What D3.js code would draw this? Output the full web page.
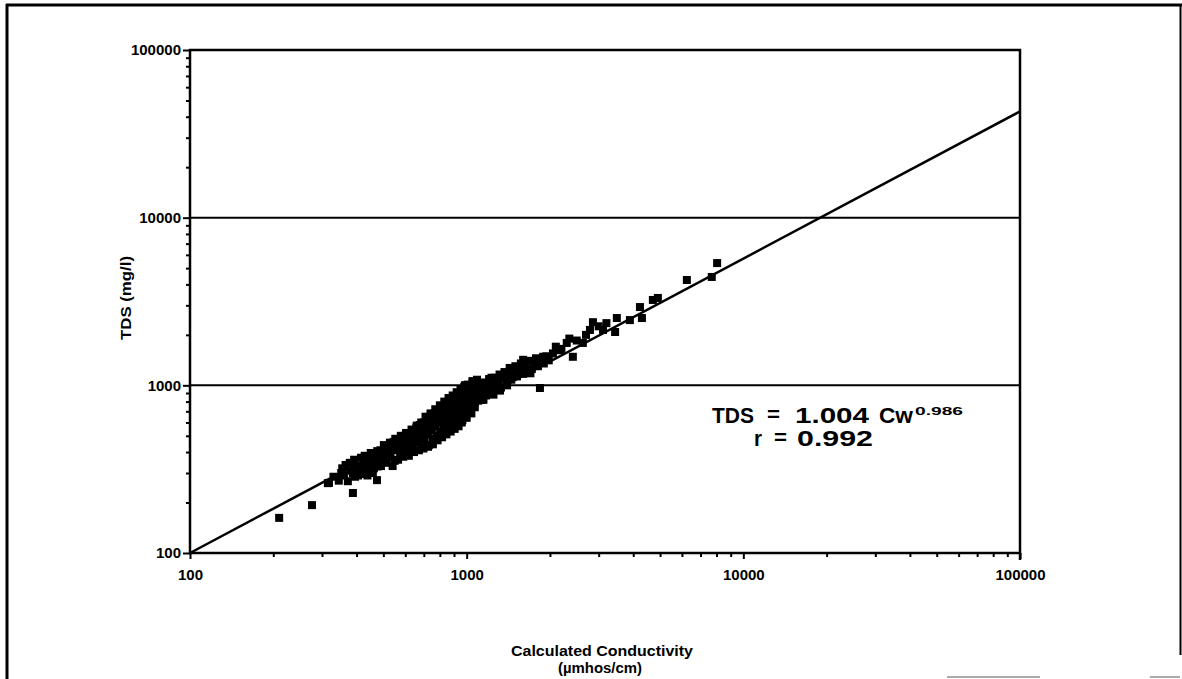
<!DOCTYPE html>
<html>
<head>
<meta charset="utf-8">
<script src="https://cdn.jsdelivr.net/npm/d3@7"></script>
<style>
  html, body { margin: 0; padding: 0; background: #fff; }
  svg { display: block; }
  text { font-family: "Liberation Sans", Arial, sans-serif; font-weight: bold; fill: #000; }
</style>
</head>
<body>
<svg id="chart" width="1182" height="679"></svg>
<script>
// ---- data ----
const conductivity = [
  210, 276, 388, 474, 315,
  318, 330, 345, 352, 360, 372, 380, 388, 395, 402, 410, 418, 425, 432, 440, 446, 452, 458, 465, 470, 476,
  482, 488, 495, 500, 505, 512, 518, 525, 530, 538, 545, 550, 556, 562, 568, 575, 580, 586, 592, 598,
  605, 610, 616, 622, 628, 634, 640, 646, 652, 658, 664, 670, 676, 682, 688, 694, 700,
  705, 712, 718, 724, 730, 736, 742, 748, 755, 760, 766, 772, 778, 785, 790, 796, 802, 808, 815, 820,
  826, 832, 840, 846, 852, 858, 865, 870, 876, 884, 890, 896, 902, 910, 916, 922, 930, 936, 942, 948,
  955, 962, 968, 975, 982, 990, 996, 1002, 1010, 1018, 1025, 1032, 1040, 1048, 1055, 1062, 1070, 1078,
  1085, 1092, 1100, 960, 1000, 1040, 920, 880, 990, 1050,
  355, 365, 378, 392, 405, 415, 428, 438, 450, 462, 475, 490, 502, 515, 528, 540, 552, 565, 578, 590,
  604, 618, 632, 645, 660, 672, 685, 698,
  710, 725, 740, 755, 770, 785, 800, 815, 830, 845, 860, 875, 890, 905, 920, 935, 950, 965, 980, 995,
  1010, 1030, 1050, 1070, 1090,
  1110, 1120, 1130, 1145, 1160, 1175, 1190, 1205, 1220, 1235, 1250, 1265, 1280, 1300, 1315, 1330, 1350,
  1370, 1390, 1410, 1430, 1450, 1470, 1500, 1520, 1545, 1570, 1600, 1630, 1660, 1690, 1720, 1750, 1780,
  1810, 1840, 1870, 1900, 1940, 1980, 1150, 1250, 1320, 1400, 1700,
  986, 1230, 1370, 1600, 1890, 2170, 2300, 2420, 2630, 2790, 2860, 3110, 3440, 3490, 3890, 4230, 4300,
  4710, 4910, 6250, 7690, 8040, 1840,
  2050, 2100, 2200, 2350, 2500, 2700, 3000, 3200
];
const tds = [
  162, 193, 228, 272, 261,
  262, 285, 270, 300, 290, 268, 310, 300, 285, 330, 318, 296, 345, 330, 310, 360, 340, 300, 370, 350, 328,
  380, 410, 360, 395, 425, 345, 400, 440, 380, 420, 460, 355, 410, 470, 440, 390, 480, 455, 420, 500,
  470, 395, 440, 510, 480, 420, 540, 500, 455, 560, 520, 470, 580, 540, 430, 500, 600,
  470, 560, 620, 510, 440, 590, 650, 540, 480, 610, 680, 570, 500, 640, 700, 600, 530, 660, 730, 620,
  560, 690, 760, 650, 580, 720, 790, 680, 610, 750, 820, 700, 630, 770, 850, 730, 660, 800, 880, 750,
  690, 830, 900, 780, 720, 860, 940, 800, 730, 880, 960, 820, 760, 900, 980, 850, 790, 920,
  1010, 870, 810, 600, 640, 680, 580, 560, 1000, 1060,
  320, 335, 345, 360, 290, 370, 380, 290, 395, 320, 405, 330, 440, 370, 455, 330, 480, 360, 500, 375,
  520, 380, 545, 400, 575, 410, 600, 420,
  650, 430, 680, 445, 720, 470, 760, 490, 800, 510, 840, 530, 870, 550, 910, 570, 950, 620, 980, 660,
  1010, 700, 1040, 740, 1080,
  880, 970, 820, 930, 1040, 870, 990, 1090, 910, 1020, 950, 1110, 1000, 1070, 1160, 970, 1100,
  1200, 1040, 1150, 1270, 1080, 1200, 1300, 1130, 1240, 1350, 1170, 1280, 1210, 1400, 1250, 1320, 1450,
  1300, 1370, 1420, 1350, 1490, 1410, 820, 880, 930, 1000, 1180,
  1000, 1110, 1150, 1420, 1480, 1620, 1790, 1480, 1790, 2140, 2380, 2140, 2080, 2520, 2450, 2930, 2520,
  3230, 3320, 4250, 4430, 5360, 964,
  1550, 1700, 1650, 1900, 1850, 2000, 2250, 2350
];
const fitCw = [100, 100000];
const fitTds = [100, 43000];
const xTickValues = [100, 1000, 10000, 100000];
const xTickLabels = ["100", "1000", "10000", "100000"];
const yTickValues = [100, 1000, 10000, 100000];
const yTickLabels = ["100", "1000", "10000", "100000"];
const gridValues = [1000, 10000];
const xTitle = ["Calculated Conductivity", "(\u00b5mhos/cm)"];
const yTitle = "TDS (mg/l)";

// ---- drawing ----
const svg = d3.select("#chart");
const L = 190, R = 1020, T = 50, B = 553;
const x = d3.scaleLog().domain([100, 100000]).range([L, R]);
const y = d3.scaleLog().domain([100, 100000]).range([B, T]);

// outer frame
svg.append("line").attr("x1", 7).attr("x2", 7).attr("y1", 4).attr("y2", 679).attr("stroke", "#000").attr("stroke-width", 3);
svg.append("line").attr("x1", 6).attr("x2", 1182).attr("y1", 5).attr("y2", 5).attr("stroke", "#000").attr("stroke-width", 3);
svg.append("line").attr("x1", 1180.5).attr("x2", 1180.5).attr("y1", 4).attr("y2", 655).attr("stroke", "#000").attr("stroke-width", 2);
svg.append("line").attr("x1", 947).attr("x2", 1040).attr("y1", 677).attr("y2", 677).attr("stroke", "#aaa").attr("stroke-width", 2);
svg.append("line").attr("x1", 1150).attr("x2", 1180).attr("y1", 677).attr("y2", 677).attr("stroke", "#aaa").attr("stroke-width", 2);

// gridlines
svg.append("g").selectAll("line").data(gridValues).join("line")
  .attr("x1", L).attr("x2", R).attr("y1", d => y(d)).attr("y2", d => y(d))
  .attr("stroke", "#000").attr("stroke-width", 2);

// axes
const minor = v => Math.abs(Math.log10(v) - Math.round(Math.log10(v))) > 1e-9;
const xAxis = d3.axisBottom(x).tickValues(x.ticks().filter(minor)).tickSize(4).tickFormat("");
const gx = svg.append("g").attr("transform", `translate(0,${B})`).call(xAxis);
gx.select(".domain").remove();
gx.selectAll("line").attr("stroke-width", 2);
const xMajor = d3.axisBottom(x).tickValues(xTickValues).tickSize(6).tickFormat((d, i) => xTickLabels[i]).tickPadding(10);
const gxm = svg.append("g").attr("transform", `translate(0,${B})`).call(xMajor);
gxm.select(".domain").remove();
gxm.selectAll("line").attr("stroke-width", 2);
gxm.selectAll("text").attr("font-size", 15).attr("font-family", "Liberation Sans, Arial, sans-serif").attr("font-weight", "bold").attr("fill", "#000");

const yAxis = d3.axisLeft(y).tickValues(y.ticks().filter(minor)).tickSize(4).tickFormat("");
const gy = svg.append("g").attr("transform", `translate(${L},0)`).call(yAxis);
gy.select(".domain").remove();
gy.selectAll("line").attr("stroke-width", 2);
const yMajor = d3.axisLeft(y).tickValues(yTickValues).tickSize(7).tickFormat((d, i) => yTickLabels[i]).tickPadding(2);
const gym = svg.append("g").attr("transform", `translate(${L},0)`).call(yMajor);
gym.select(".domain").remove();
gym.selectAll("line").attr("stroke-width", 2);
gym.selectAll("text").attr("font-size", 15).attr("font-family", "Liberation Sans, Arial, sans-serif").attr("font-weight", "bold").attr("fill", "#000");

// plot box
svg.append("rect").attr("x", L).attr("y", T).attr("width", R - L).attr("height", B - T)
  .attr("fill", "none").attr("stroke", "#000").attr("stroke-width", 2.5);
svg.append("line").attr("x1", R).attr("x2", R).attr("y1", B).attr("y2", B + 7).attr("stroke", "#000").attr("stroke-width", 2.5);

// fit line
const line = d3.line().x(d => x(d[0])).y(d => y(d[1]));
svg.append("path").datum(fitCw.map((c, i) => [c, fitTds[i]]))
  .attr("d", line).attr("fill", "none").attr("stroke", "#000").attr("stroke-width", 2.5);

// points
const s = 8;
svg.append("g").selectAll("rect").data(conductivity.map((c, i) => [c, tds[i]])).join("rect")
  .attr("x", d => x(d[0]) - s / 2).attr("y", d => y(d[1]) - s / 2)
  .attr("width", s).attr("height", s).attr("fill", "#000");

// axis titles
svg.append("text").attr("x", 602).attr("y", 656).attr("text-anchor", "middle").attr("font-size", 14)
  .attr("textLength", 182).attr("lengthAdjust", "spacingAndGlyphs").text(xTitle[0]);
svg.append("text").attr("x", 600).attr("y", 673).attr("text-anchor", "middle").attr("font-size", 14)
  .attr("textLength", 84).attr("lengthAdjust", "spacingAndGlyphs").text(xTitle[1]);
svg.append("text").attr("transform", "translate(131,298) rotate(-90)").attr("text-anchor", "middle")
  .attr("font-size", 14).attr("textLength", 84).attr("lengthAdjust", "spacingAndGlyphs").text(yTitle);

// equation annotation
const eq = svg.append("g");
const piece = (tx, ty, str, len, fs) => eq.append("text").attr("x", tx).attr("y", ty).attr("font-size", fs)
  .attr("textLength", len).attr("lengthAdjust", "spacingAndGlyphs").text(str);
piece(712, 423, "TDS", 42, 22);
piece(767, 421, "=", 13, 20);
piece(795, 423, "1.004", 74, 22);
piece(879, 423, "Cw", 34, 22);
piece(915, 415, "0.986", 48, 11);
piece(754, 446, "r", 8, 22);
piece(774, 444, "=", 13, 20);
piece(797, 446, "0.992", 76, 22);
</script>
</body>
</html>
